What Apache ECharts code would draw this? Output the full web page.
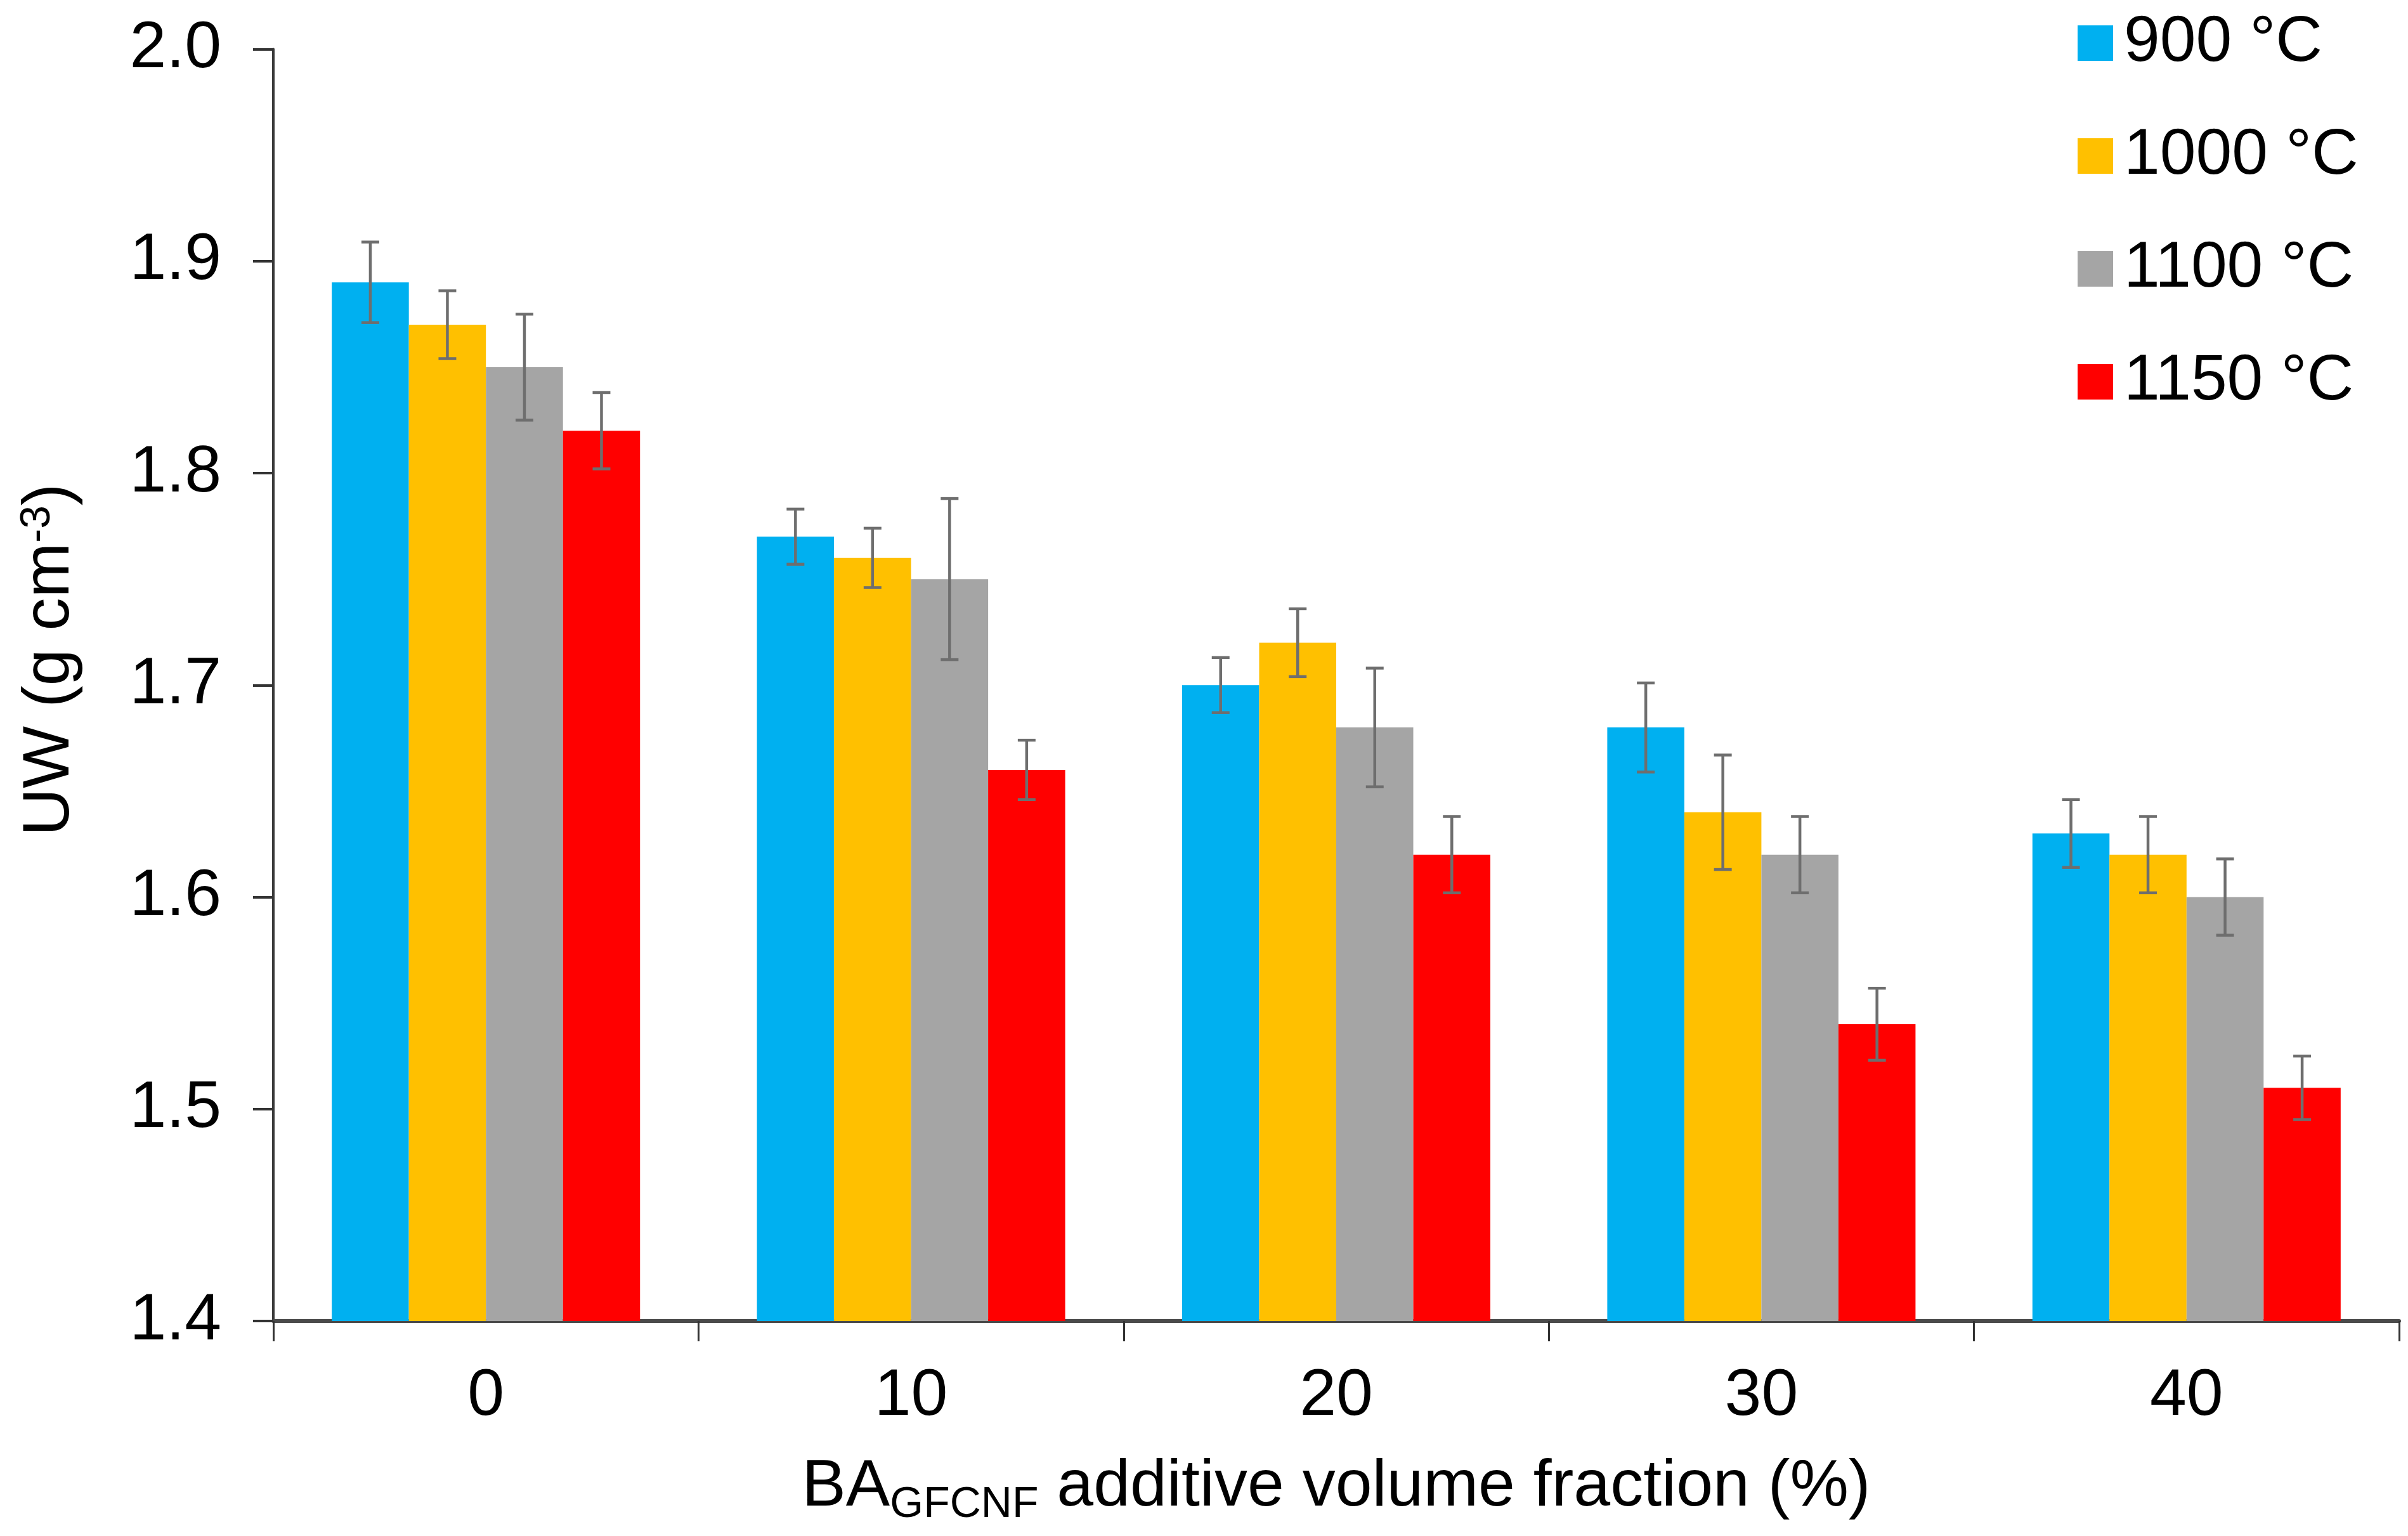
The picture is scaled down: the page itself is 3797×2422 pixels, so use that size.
<!DOCTYPE html>
<html>
<head>
<meta charset="utf-8">
<script src="https://cdn.jsdelivr.net/npm/echarts@6/dist/echarts.min.js"></script>
<style>
html,body{margin:0;padding:0;background:#fff;}
#chart{width:3797px;height:2422px;}
</style>
</head>
<body>
<div id="chart"></div>
<script>
// ---- data ----
const categories = ['0', '10', '20', '30', '40'];
const seriesNames = ['900 °C', '1000 °C', '1100 °C', '1150 °C'];
const v900  = [1.89, 1.77, 1.70, 1.68, 1.63];
const v1000 = [1.87, 1.76, 1.72, 1.64, 1.62];
const v1100 = [1.85, 1.75, 1.68, 1.62, 1.60];
const v1150 = [1.82, 1.66, 1.62, 1.54, 1.51];
const e900  = [0.019, 0.013, 0.013, 0.021, 0.016];
const e1000 = [0.016, 0.014, 0.016, 0.027, 0.018];
const e1100 = [0.025, 0.038, 0.028, 0.018, 0.018];
const e1150 = [0.018, 0.014, 0.018, 0.017, 0.015];
const yTicks = [1.4, 1.5, 1.6, 1.7, 1.8, 1.9, 2.0];

const colors = ['#00B0F0', '#FFC000', '#A5A5A5', '#FF0000'];
const values = [v900, v1000, v1100, v1150];
const errors = [e900, e1000, e1100, e1150];
const CAT_GAP = 0.275;
const FONT = 'Liberation Sans, Arial, sans-serif';

const errData = [];
values.forEach((arr, k) => {
  arr.forEach((v, i) => errData.push([i, v, errors[k][i], k]));
});

const chart = echarts.init(document.getElementById('chart'), null, {renderer: 'canvas'});

const barSeries = values.map((arr, k) => ({
  name: seriesNames[k],
  type: 'bar',
  data: arr,
  barGap: '0%',
  barCategoryGap: (CAT_GAP * 100) + '%',
  itemStyle: {color: colors[k]},
  z: 2
}));

const errSeries = {
  type: 'custom',
  name: 'err',
  data: errData,
  encode: {x: 0, y: 1},
  z: 5,
  silent: true,
  renderItem: function (params, api) {
    const idx = api.value(0), v = api.value(1), e = api.value(2), k = api.value(3);
    const band = api.size([1, 0])[0];
    const bw = band * (1 - CAT_GAP) / 4;
    const cx = api.coord([idx, v])[0] + (k - 1.5) * bw;
    const yt = api.coord([idx, v + e])[1];
    const yb = api.coord([idx, v - e])[1];
    const hw = 14;
    const st = {stroke: '#6E6E6E', lineWidth: 4.5};
    return {
      type: 'group',
      children: [
        {type: 'line', shape: {x1: cx, y1: yt, x2: cx, y2: yb}, style: st},
        {type: 'line', shape: {x1: cx - hw, y1: yt, x2: cx + hw, y2: yt}, style: st},
        {type: 'line', shape: {x1: cx - hw, y1: yb, x2: cx + hw, y2: yb}, style: st}
      ]
    };
  }
};

const option = {
  backgroundColor: '#ffffff',
  animation: false,
  textStyle: {fontFamily: FONT},
  grid: {left: 431, right: 14, top: 77.5, bottom: 339, containLabel: false},
  legend: {
    data: seriesNames,
    orient: 'vertical',
    left: 3271,
    top: 12,
    icon: 'rect',
    itemWidth: 56,
    itemHeight: 56,
    itemGap: 76,
    textStyle: {fontSize: 102, color: '#000', fontFamily: FONT, padding: [0, 0, 0, 12]}
  },
  xAxis: {
    type: 'category',
    data: categories,
    boundaryGap: true,
    axisLine: {show: true, lineStyle: {color: '#4a4a4a', width: 6}},
    axisTick: {show: true, length: 32, lineStyle: {color: '#333', width: 3}},
    axisLabel: {fontSize: 104, color: '#000', margin: 67, fontFamily: FONT},
    name: '{m|BA}{sub|GFCNF}{m| additive volume fraction (%)}',
    nameLocation: 'middle',
    nameGap: 210,
    nameTextStyle: {
      fontSize: 104, color: '#000', fontFamily: FONT,
      rich: {
        m: {fontSize: 104, color: '#000', fontFamily: FONT, verticalAlign: 'top', lineHeight: 104},
        sub: {fontSize: 68, color: '#000', fontFamily: FONT, verticalAlign: 'top', padding: [46, 0, 0, 0]}
      }
    }
  },
  yAxis: {
    type: 'value',
    min: 1.4,
    max: 2.0,
    interval: 0.1,
    splitLine: {show: false},
    axisLine: {show: true, lineStyle: {color: '#3a3a3a', width: 4}},
    axisTick: {show: true, inside: false, length: 32, lineStyle: {color: '#333', width: 4}},
    axisLabel: {
      fontSize: 104, color: '#000', margin: 82, fontFamily: FONT,
      formatter: function (val) {
        const t = yTicks.find(x => Math.abs(x - val) < 1e-6);
        return (t !== undefined ? t : val).toFixed(1);
      }
    },
    name: 'UW (g cm{sup|-3})',
    nameLocation: 'middle',
    nameGap: 300,
    nameTextStyle: {
      fontSize: 104, color: '#000', fontFamily: FONT, lineHeight: 104,
      padding: [0, 0, 0, 80],
      rich: {sup: {fontSize: 66, color: '#000', fontFamily: FONT, verticalAlign: 'top', lineHeight: 74}}
    }
  },
  series: barSeries.concat([errSeries])
};

chart.setOption(option);
</script>
</body>
</html>
